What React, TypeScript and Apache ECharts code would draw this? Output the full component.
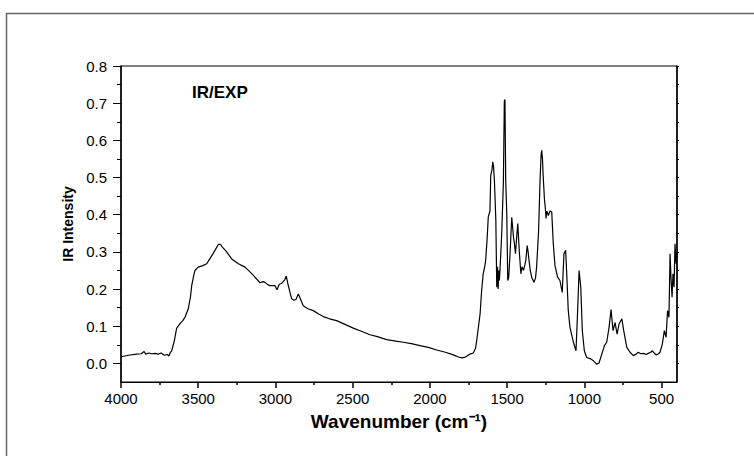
import React, { useEffect, useRef } from "react";
import * as echarts from "echarts";

// Wavenumber (cm-1) sample positions
const wavenumbers = [
  4000, 3950, 3900, 3870, 3850, 3840, 3820, 3800, 3780, 3760, 3740, 3720, 3700, 3690, 3680,
  3672, 3655, 3640, 3618, 3600, 3586, 3564, 3550, 3542, 3530, 3521, 3500, 3470, 3445, 3424,
  3400, 3370, 3355, 3348, 3320, 3283, 3240, 3197, 3150, 3100, 3080, 3068, 3050, 3035, 3003,
  2990, 2975, 2960, 2940, 2930, 2920, 2905, 2895, 2880, 2867, 2852, 2840, 2820, 2790, 2755,
  2720, 2690, 2650, 2604, 2550, 2496, 2440, 2388, 2340, 2280, 2220, 2172, 2120, 2064, 2010,
  1956, 1900, 1848, 1820, 1794, 1770, 1740, 1719, 1705, 1697, 1685, 1675, 1665, 1655, 1645,
  1639, 1630, 1622, 1611, 1606, 1598, 1593, 1588, 1582, 1573, 1567, 1562, 1558, 1554, 1550,
  1545, 1535, 1524, 1518, 1514, 1509, 1502, 1496, 1490, 1481, 1470, 1465, 1459, 1452, 1446,
  1438, 1431, 1425, 1420, 1411, 1404, 1394, 1385, 1379, 1370, 1364, 1358, 1350, 1341, 1326,
  1316, 1309, 1296, 1287, 1280, 1276, 1271, 1266, 1258, 1253, 1248, 1243, 1233, 1222, 1211,
  1201, 1190, 1173, 1158, 1143, 1132, 1121, 1114, 1104, 1093, 1071, 1054, 1045, 1034, 1023,
  1013, 1000, 985, 963, 941, 920, 905, 887, 870, 855, 840, 827, 814, 801, 788,
  775, 757, 745, 725, 704, 683, 665, 651, 635, 618, 600, 586, 570, 560, 548,
  536, 520, 510, 495, 482, 471, 461, 452, 445, 439, 432, 426, 419, 413, 406,
  400,
];

// IR intensity values
const intensity = [
  0.018, 0.022, 0.025, 0.026, 0.032, 0.025, 0.028, 0.026, 0.027, 0.025, 0.028, 0.022, 0.024, 0.02, 0.03,
  0.034, 0.06, 0.094, 0.107, 0.115, 0.124, 0.147, 0.18, 0.21, 0.235, 0.25, 0.259, 0.263, 0.268, 0.282,
  0.298, 0.32, 0.32, 0.315, 0.302, 0.281, 0.268, 0.259, 0.24, 0.217, 0.22, 0.218, 0.212, 0.209, 0.209,
  0.198, 0.213, 0.215, 0.225, 0.235, 0.215, 0.19, 0.174, 0.17, 0.172, 0.187, 0.175, 0.155, 0.147, 0.142,
  0.133, 0.126, 0.12, 0.115, 0.105, 0.095, 0.086, 0.077, 0.072, 0.064, 0.06, 0.057, 0.053, 0.048, 0.043,
  0.036, 0.03, 0.023, 0.018, 0.015, 0.017, 0.025, 0.028, 0.04, 0.061, 0.1, 0.133, 0.196, 0.241, 0.26,
  0.277, 0.33, 0.394, 0.41, 0.506, 0.52, 0.542, 0.53, 0.49, 0.385, 0.205, 0.26, 0.2, 0.25, 0.223,
  0.26, 0.349, 0.49, 0.706, 0.71, 0.49, 0.4, 0.223, 0.23, 0.295, 0.393, 0.37, 0.34, 0.32, 0.295,
  0.34, 0.376, 0.33, 0.295, 0.241, 0.26, 0.25, 0.265, 0.277, 0.317, 0.3, 0.277, 0.25, 0.232, 0.218,
  0.23, 0.259, 0.358, 0.49, 0.56, 0.573, 0.55, 0.5, 0.44, 0.42, 0.39, 0.41, 0.398, 0.41, 0.407,
  0.322, 0.263, 0.232, 0.223, 0.191, 0.295, 0.304, 0.241, 0.142, 0.097, 0.057, 0.034, 0.124, 0.25, 0.205,
  0.088, 0.034, 0.016, 0.013, 0.007, -0.002, 0.001, 0.025, 0.048, 0.057, 0.097, 0.145, 0.088, 0.11, 0.079,
  0.106, 0.12, 0.088, 0.043, 0.03, 0.021, 0.025, 0.03, 0.026, 0.027, 0.024, 0.027, 0.03, 0.034, 0.028,
  0.023, 0.026, 0.03, 0.052, 0.088, 0.07, 0.142, 0.124, 0.295, 0.232, 0.178, 0.241, 0.205, 0.322, 0.268,
  0.3,
];

const xTickValues = [4000, 3500, 3000, 2500, 2000, 1500, 1000, 500];
const xMinorTickValues = [3750, 3250, 2750, 2250, 1750, 1250, 750];
const yTickValues = [0, 0.1, 0.2, 0.3, 0.4, 0.5, 0.6, 0.7, 0.8];
const yMinorTickValues = [0.05, 0.15, 0.25, 0.35, 0.45, 0.55, 0.65, 0.75];
const yRightTickValues = [0, 0.05, 0.1, 0.15, 0.2, 0.25, 0.3, 0.35, 0.4, 0.45, 0.5, 0.55, 0.6, 0.65, 0.7, 0.75, 0.8];

const xName = "Wavenumber (cm⁻¹)";
const yName = "IR Intensity";
const labelText = "IR/EXP";

const FONT = "'Liberation Sans', Arial, Helvetica, sans-serif";

export default function App() {
  const ref = useRef<HTMLDivElement>(null);

  useEffect(() => {
    if (!ref.current) return;
    const chart = echarts.init(ref.current, null, { renderer: "svg" });
    const data = wavenumbers.map((w, i) => [w, intensity[i]]);

    const xBase = {
      type: "value" as const,
      min: 400,
      max: 4000,
      inverse: true,
      gridIndex: 0,
      splitLine: { show: false },
    };
    const yBase = {
      type: "value" as const,
      min: -0.05,
      max: 0.8,
      gridIndex: 0,
      splitLine: { show: false },
    };

    chart.setOption({
      animation: false,
      backgroundColor: "#fff",
      grid: {
        left: 121,
        top: 66,
        right: 77,
        bottom: 74,
        containLabel: false,
        outerBoundsMode: "none",
        show: true,
        borderColor: "#000",
        borderWidth: 1,
        backgroundColor: "transparent",
      },
      xAxis: [
        {
          ...xBase,
          position: "bottom",
          axisLine: { show: true, onZero: false, lineStyle: { color: "#000", width: 1 } },
          axisTick: { show: true, customValues: xTickValues, length: 6, inside: false, lineStyle: { color: "#000", width: 1.5 } },
          axisLabel: {
            show: true,
            customValues: xTickValues,
            margin: 9,
            fontSize: 15,
            color: "#000",
            fontFamily: FONT,
            formatter: (v: number) => String(Math.round(v)),
          },
          name: xName,
          nameLocation: "middle",
          nameGap: 30,
          nameTextStyle: { fontSize: 19, fontWeight: "bold", color: "#000", fontFamily: FONT },
        },
        {
          ...xBase,
          position: "bottom",
          axisLine: { show: false, onZero: false },
          axisTick: { show: true, customValues: xMinorTickValues, length: 3, inside: false, lineStyle: { color: "#000", width: 1.5 } },
          axisLabel: { show: false },
        },
      ],
      yAxis: [
        {
          ...yBase,
          position: "left",
          axisLine: { show: true, onZero: false, lineStyle: { color: "#000", width: 1.5 } },
          axisTick: { show: true, customValues: yTickValues, length: 8, inside: false, lineStyle: { color: "#000", width: 1 } },
          axisLabel: {
            show: true,
            customValues: yTickValues,
            margin: 14,
            fontSize: 15,
            color: "#000",
            fontFamily: FONT,
            formatter: (v: number) => v.toFixed(1),
          },
          name: yName,
          nameLocation: "middle",
          nameRotate: 90,
          nameGap: 45,
          nameTextStyle: { fontSize: 14, fontWeight: "bold", color: "#000", fontFamily: FONT },
        },
        {
          ...yBase,
          position: "left",
          axisLine: { show: false, onZero: false },
          axisTick: { show: true, customValues: yMinorTickValues, length: 4, inside: false, lineStyle: { color: "#000", width: 1 } },
          axisLabel: { show: false },
        },
        {
          ...yBase,
          position: "right",
          axisLine: { show: true, onZero: false, lineStyle: { color: "#000", width: 1.5 } },
          axisTick: { show: true, customValues: yRightTickValues, length: 2, inside: false, lineStyle: { color: "#000", width: 1 } },
          axisLabel: { show: false },
        },
      ],
      series: [
        {
          type: "line",
          xAxisIndex: 0,
          yAxisIndex: 0,
          data,
          showSymbol: false,
          symbol: "none",
          smooth: false,
          lineStyle: { color: "#000", width: 1.2 },
          z: 3,
        },
      ],
      graphic: [
        {
          type: "rect",
          left: 4,
          top: 11,
          shape: { x: 0, y: 0, width: 800, height: 500 },
          style: { fill: "none", stroke: "#666", lineWidth: 1.5 },
          silent: true,
          z: -1,
        },
        {
          type: "text",
          left: 192,
          top: 84,
          style: {
            text: labelText,
            fontSize: 17,
            fontWeight: "bold",
            fill: "#000",
            fontFamily: FONT,
          },
        },
      ],
    });

    return () => {
      chart.dispose();
    };
  }, []);

  return (
    <div
      ref={ref}
      style={{ position: "fixed", left: 0, top: 0, width: 754, height: 456, background: "#fff" }}
    />
  );
}
